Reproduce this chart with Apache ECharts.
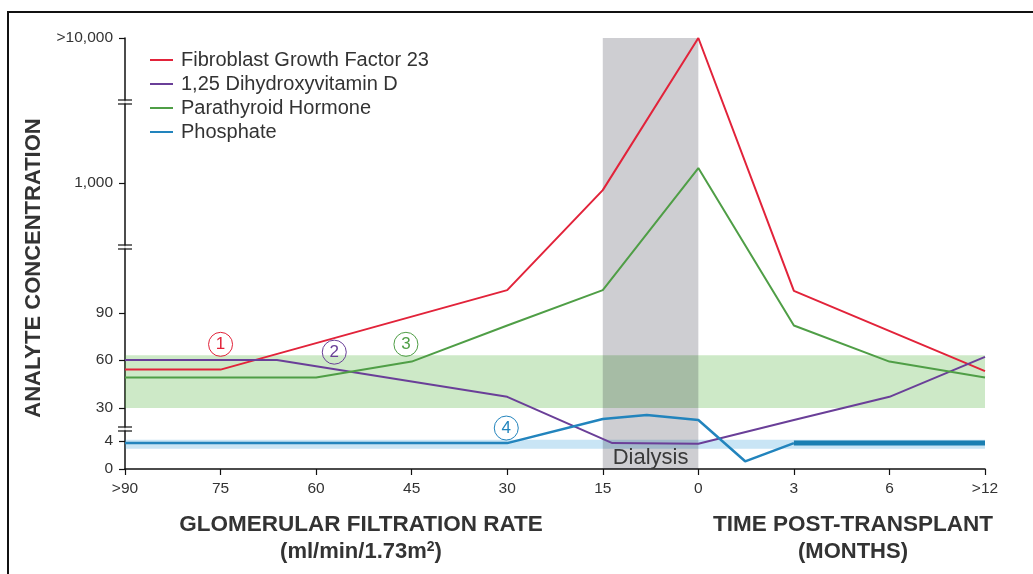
<!DOCTYPE html>
<html>
<head>
<meta charset="utf-8">
<script src="https://cdn.jsdelivr.net/npm/echarts@6/dist/echarts.min.js"></script>
<style>
html,body{margin:0;padding:0;background:#fff;}
#chart{width:1033px;height:574px;}
</style>
</head>
<body>
<div id="chart"></div>
<script>
// ---- categories / tick labels ----
const xLabels = ['>90', '75', '60', '45', '30', '15', '0', '3', '6', '>12'];
const yTickValues = [0, 4, 30, 60, 90, 1000, 10000];
const yTickLabels = ['0', '4', '30', '60', '90', '1,000', '>10,000'];
const seriesNames = ['Fibroblast Growth Factor 23', '1,25 Dihydroxyvitamin D', 'Parathyroid Hormone', 'Phosphate'];

// ---- series values (x = position along the axis, y = concentration) ----
const fgf23X = [0, 1, 4, 5, 6, 7, 9];
const fgf23Y = [54, 54, 250, 950, 10000, 245, 53];
const vitDX = [0, 1.59, 4, 5.1, 6, 7, 8, 9];
const vitDY = [60, 60, 37, 3.7, 3.6, 20.5, 37, 62];
const pthX = [0, 2, 3, 4, 5, 6, 7, 8, 9];
const pthY = [49, 49, 59, 82, 250, 1930, 82, 59, 49];
const phosX = [0, 4, 5, 5.46, 6, 6.49, 7];
const phosY = [3.7, 3.7, 21.3, 24.5, 20.5, 1.1, 3.7];
const phosPostX = [7, 9];
const phosPostY = [3.7, 3.7];

// reference ranges & dialysis period
const normalRangeMain = [30, 63];
const normalRangePhos = [2.9, 5];
const dialysisX = [5, 6];

// ---- broken axis: piecewise scale (axis units per tick segment) ----
const yTickPos = [0, 28, 61, 109, 156, 286, 431];
const axisBreaks = [40, 222, 367];
function toAxis(v) {
  for (let i = 1; i < yTickValues.length; i++) {
    if (v <= yTickValues[i]) {
      const a = yTickValues[i - 1], b = yTickValues[i];
      return yTickPos[i - 1] + (v - a) / (b - a) * (yTickPos[i] - yTickPos[i - 1]);
    }
  }
  return yTickPos[yTickPos.length - 1];
}
function pairs(xs, ys) { return xs.map((x, i) => [x, toAxis(ys[i])]); }

const colors = ['#e2233a', '#6a3f98', '#4f9e46', '#2284bd'];
const FONT = 'Liberation Sans, Arial, Helvetica, sans-serif';

function circleMark(x, v, txt, c) {
  return {
    coord: [x, toAxis(v)], value: txt,
    symbol: 'circle', symbolSize: 24,
    itemStyle: { color: 'rgba(255,255,255,0)', borderColor: c, borderWidth: 1 },
    label: { show: true, formatter: txt, color: c, fontSize: 17, fontFamily: FONT, position: 'inside' }
  };
}

const chart = echarts.init(document.getElementById('chart'), null, { renderer: 'canvas' });
const option = {
  animation: false,
  backgroundColor: '#fff',
  grid: { left: 125, right: 48, top: 38, bottom: 105, containLabel: false },
  legend: {
    orient: 'vertical', left: 150, top: 50, padding: 0,
    data: seriesNames,
    icon: 'rect', itemWidth: 23, itemHeight: 2, itemGap: 4,
    textStyle: { fontFamily: FONT, fontSize: 20, color: '#333', padding: [0, 0, 0, 3] },
    selectedMode: false
  },
  xAxis: {
    type: 'value', min: 0, max: 9, interval: 1,
    axisLine: { show: true, lineStyle: { color: '#111', width: 1.5 } },
    axisTick: { show: true, inside: false, length: 6, lineStyle: { color: '#111', width: 1.2 } },
    axisLabel: { formatter: v => xLabels[Math.round(v)], color: '#333', fontSize: 15.5, fontFamily: FONT, margin: 12 },
    splitLine: { show: false }
  },
  yAxis: {
    type: 'value', min: 0, max: toAxis(10000),
    axisLine: { show: true, lineStyle: { color: '#111', width: 1.5 } },
    axisTick: { show: true, inside: false, length: 6, customValues: yTickPos, lineStyle: { color: '#111', width: 1.2 } },
    axisLabel: {
      customValues: yTickPos,
      formatter: v => { const i = yTickPos.findIndex(p => Math.abs(p - v) < 0.01); return i >= 0 ? yTickLabels[i] : ''; },
      color: '#333', fontSize: 15.5, fontFamily: FONT, margin: 12
    },
    splitLine: { show: false }
  },
  graphic: [
    { type: 'rect', shape: { x: 8, y: 12, width: 1100, height: 700 }, style: { fill: 'none', stroke: '#111', lineWidth: 2 }, silent: true, z: 100 },
    { type: 'text', x: 34, y: 268, rotation: Math.PI / 2,
      style: { text: 'ANALYTE CONCENTRATION', font: 'bold 22px ' + FONT, fill: '#333', textAlign: 'center', textVerticalAlign: 'middle' } },
    { type: 'text', x: 361, y: 525, style: { text: 'GLOMERULAR FILTRATION RATE', font: 'bold 22.5px ' + FONT, fill: '#333', textAlign: 'center', textVerticalAlign: 'middle' } },
    { type: 'text', x: 361, y: 552, style: { text: '(ml/min/1.73m{sup|2})', font: 'bold 22px ' + FONT, fill: '#333', textAlign: 'center', textVerticalAlign: 'middle',
      rich: { sup: { font: 'bold 14px ' + FONT, fill: '#333', padding: [0, 0, 10, 0] } } } },
    { type: 'text', x: 853, y: 525, style: { text: 'TIME POST-TRANSPLANT', font: 'bold 22.5px ' + FONT, fill: '#333', textAlign: 'center', textVerticalAlign: 'middle' } },
    { type: 'text', x: 853, y: 552, style: { text: '(MONTHS)', font: 'bold 22px ' + FONT, fill: '#333', textAlign: 'center', textVerticalAlign: 'middle' } }
  ],
  series: [
    {
      type: 'line', data: [], z: 1, silent: true,
      markArea: {
        silent: true,
        data: [
          [{ xAxis: 0, yAxis: toAxis(normalRangeMain[0]), itemStyle: { color: 'rgba(60,170,40,0.26)' } },
           { xAxis: 9, yAxis: toAxis(normalRangeMain[1]) }],
          [{ xAxis: 0, yAxis: toAxis(normalRangePhos[0]), itemStyle: { color: 'rgba(40,150,215,0.25)' } },
           { xAxis: 9, yAxis: toAxis(normalRangePhos[1]) }],
          [{ xAxis: dialysisX[0], yAxis: toAxis(0), itemStyle: { color: 'rgba(10,10,30,0.2)' },
             label: { show: true, position: 'insideBottom', distance: 0, formatter: 'Dialysis', color: '#3a3a3a', fontSize: 22, fontFamily: FONT } },
           { xAxis: dialysisX[1], yAxis: toAxis(10000) }]
        ]
      }
    },
    {
      name: seriesNames[0], type: 'line', data: pairs(fgf23X, fgf23Y), z: 3,
      symbol: 'none', lineStyle: { color: colors[0], width: 2 }, itemStyle: { color: colors[0] },
      markPoint: { silent: true, data: [circleMark(1, 70, '1', colors[0])] }
    },
    {
      name: seriesNames[1], type: 'line', data: pairs(vitDX, vitDY), z: 3,
      symbol: 'none', lineStyle: { color: colors[1], width: 2 }, itemStyle: { color: colors[1] },
      markPoint: { silent: true, data: [circleMark(2.19, 65, '2', colors[1])] }
    },
    {
      name: seriesNames[2], type: 'line', data: pairs(pthX, pthY), z: 3,
      symbol: 'none', lineStyle: { color: colors[2], width: 2 }, itemStyle: { color: colors[2] },
      markPoint: { silent: true, data: [circleMark(2.94, 70, '3', colors[2])] }
    },
    {
      name: seriesNames[3], type: 'line', data: pairs(phosX, phosY), z: 3,
      symbol: 'none', lineStyle: { color: colors[3], width: 2.5 }, itemStyle: { color: colors[3] },
      markPoint: { silent: true, data: [circleMark(3.99, 14.2, '4', colors[3])] }
    },
    {
      name: seriesNames[3], type: 'line', data: pairs(phosPostX, phosPostY), z: 3,
      symbol: 'none', lineStyle: { color: '#1a7fb2', width: 5 }, itemStyle: { color: colors[3] }
    },
    {
      type: 'scatter', silent: true, z: 6, data: axisBreaks.map(b => [0, b]),
      symbol: 'rect', symbolSize: [5, 3], itemStyle: { color: '#fff' }
    },
    {
      type: 'scatter', silent: true, z: 7, data: axisBreaks.map(b => [0, b]),
      symbol: 'path://M0,0H14V1.5H0Z M0,4H14V5.5H0Z', symbolSize: [14, 5.5], symbolKeepAspect: false,
      itemStyle: { color: '#111' }
    }
  ]
};
chart.setOption(option);
</script>
</body>
</html>
